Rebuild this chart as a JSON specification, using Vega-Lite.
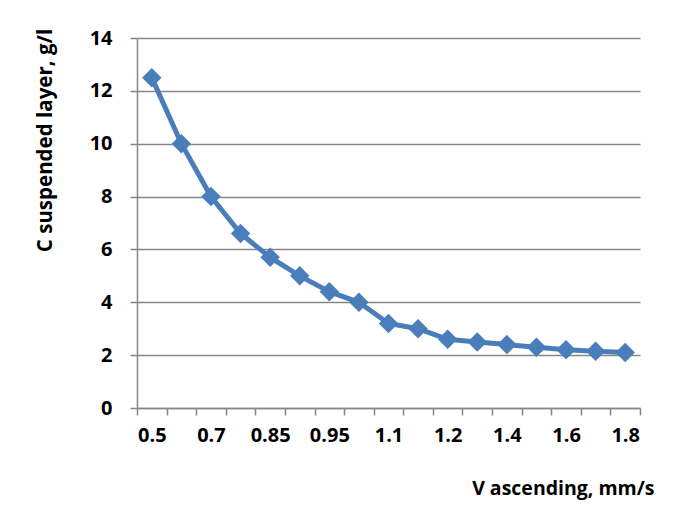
{
  "$schema": "https://vega.github.io/schema/vega-lite/v6.json",
  "autosize": "none",
  "width": 503,
  "height": 370,
  "padding": {"left": 137, "top": 38, "right": 34, "bottom": 120},
  "background": "white",
  "data": {
    "values": [
      {"v": "0.5", "c": 12.5},
      {"v": "0.6", "c": 10.0},
      {"v": "0.7", "c": 8.0},
      {"v": "0.8", "c": 6.6},
      {"v": "0.85", "c": 5.7},
      {"v": "0.9", "c": 5.0},
      {"v": "0.95", "c": 4.4},
      {"v": "1", "c": 4.0},
      {"v": "1.1", "c": 3.2},
      {"v": "1.15", "c": 3.0},
      {"v": "1.2", "c": 2.6},
      {"v": "1.3", "c": 2.5},
      {"v": "1.4", "c": 2.4},
      {"v": "1.5", "c": 2.3},
      {"v": "1.6", "c": 2.2},
      {"v": "1.7", "c": 2.15},
      {"v": "1.8", "c": 2.1}
    ]
  },
  "config": {
    "view": {"stroke": null},
    "font": "Open Sans"
  },
  "encoding": {
    "x": {
      "field": "v",
      "type": "ordinal",
      "sort": null,
      "bandPosition": 0.5,
      "scale": {"type": "band", "paddingInner": 0, "paddingOuter": 0},
      "axis": {
        "title": "V ascending, mm/s",
        "labelAngle": 0,
        "labelFont": "Open Sans",
        "labelFontWeight": "bold",
        "labelFontSize": 20,
        "labelColor": "black",
        "labelPadding": 10,
        "labelExpr": "indexof(['0.5','0.7','0.85','0.95','1.1','1.2','1.4','1.6','1.8'], datum.label) >= 0 ? datum.label : ''",
        "tickBand": "extent",
        "tickColor": "#868686",
        "tickWidth": 1.5,
        "tickSize": 7,
        "domainColor": "#868686",
        "domainWidth": 1.5,
        "grid": false,
        "titleFont": "Open Sans",
        "titleFontWeight": "bold",
        "titleFontSize": 19.5,
        "titleColor": "black",
        "titleAlign": "right",
        "titleAnchor": null,
        "titleX": 517,
        "titleY": 90,
        "titleBaseline": "bottom"
      }
    },
    "y": {
      "field": "c",
      "type": "quantitative",
      "scale": {"domain": [0, 14], "nice": false},
      "axis": {
        "title": "C suspended layer, g/l",
        "values": [0, 2, 4, 6, 8, 10, 12, 14],
        "labelFont": "Open Sans",
        "labelFontWeight": "bold",
        "labelFontSize": 20,
        "labelColor": "black",
        "labelPadding": 18,
        "ticks": true,
        "tickColor": "#868686",
        "tickWidth": 1.5,
        "tickSize": 7,
        "domainColor": "#868686",
        "domainWidth": 1.5,
        "grid": true,
        "gridColor": "#868686",
        "gridWidth": 1.5,
        "titleFont": "Open Sans",
        "titleFontWeight": "bold",
        "titleFontSize": 20.5,
        "titleColor": "black",
        "titleAngle": -90,
        "titleAlign": "center",
        "titleBaseline": "middle",
        "titleAnchor": null,
        "titleX": -92,
        "titleY": 102
      }
    }
  },
  "layer": [
    {
      "mark": {"type": "line", "color": "#4A7EBB", "strokeWidth": 5}
    },
    {
      "mark": {"type": "point", "shape": "diamond", "filled": true, "color": "#4A7EBB", "opacity": 1, "size": 380}
    }
  ]
}
